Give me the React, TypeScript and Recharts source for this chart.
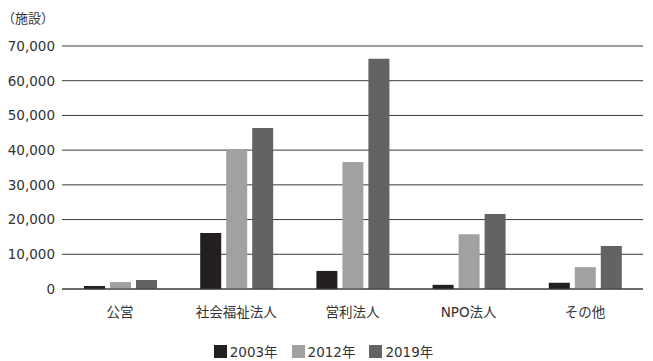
import React from 'react';
import { BarChart, Bar, XAxis, YAxis, CartesianGrid, Legend } from 'recharts';

const categories = ['公営', '社会福祉法人', '営利法人', 'NPO法人', 'その他'];
const values2003 = [870, 16100, 5200, 1200, 1800];
const values2012 = [2000, 40300, 36600, 15800, 6300];
const values2019 = [2600, 46400, 66300, 21600, 12400];
const yTicks = [0, 10000, 20000, 30000, 40000, 50000, 60000, 70000];

const series = [
  { key: 'y2003', name: '2003年', color: '#231f20' },
  { key: 'y2012', name: '2012年', color: '#a1a1a4' },
  { key: 'y2019', name: '2019年', color: '#636364' },
];

const data = categories.map((name, i) => ({
  name,
  y2003: values2003[i],
  y2012: values2012[i],
  y2019: values2019[i],
}));

const FONT = '"DejaVu Sans", "Noto Sans CJK JP", sans-serif';

const LegendContent = () => (
  <div style={{ display: 'flex', justifyContent: 'center', gap: 14, fontFamily: FONT, fontSize: 13.5, color: '#333' }}>
    {series.map((s) => (
      <div key={s.key} style={{ display: 'flex', alignItems: 'center' }}>
        <span style={{ display: 'inline-block', width: 13, height: 13, background: s.color, marginRight: 3 }} />
        <span>{s.name}</span>
      </div>
    ))}
  </div>
);

export default function App() {
  return (
    <div style={{ position: 'absolute', left: 0, top: 0, width: 653, height: 361, background: '#fff', fontFamily: FONT }}>
      <div style={{ position: 'absolute', left: 2, top: 8, fontSize: 13, color: '#333', fontFamily: '"Noto Sans CJK JP", sans-serif' }}>（施設）</div>
      <BarChart
        width={653}
        height={361}
        data={data}
        margin={{ top: 46, right: 10, left: 4, bottom: 8 }}
        barSize={21}
        barGap={5}
      >
        <CartesianGrid vertical={false} stroke="#3a3a3a" strokeWidth={1} />
        <XAxis
          dataKey="name"
          axisLine={{ stroke: '#3a3a3a' }}
          tickLine={false}
          tickMargin={12}
          height={40}
          tick={{ fontSize: 13.5, fill: '#333', fontFamily: FONT }}
        />
        <YAxis
          width={58}
          domain={[0, 70000]}
          ticks={yTicks}
          axisLine={false}
          tickLine={false}
          tickSize={0}
          tickMargin={7}
          tickFormatter={(v: number) => v.toLocaleString('en-US')}
          tick={{ fontSize: 13.5, fill: '#333', fontFamily: FONT }}
        />
        <Legend verticalAlign="bottom" height={24} wrapperStyle={{ bottom: -4 }} content={<LegendContent />} />
        {series.map((s) => (
          <Bar key={s.key} dataKey={s.key} name={s.name} fill={s.color} isAnimationActive={false} />
        ))}
      </BarChart>
    </div>
  );
}
